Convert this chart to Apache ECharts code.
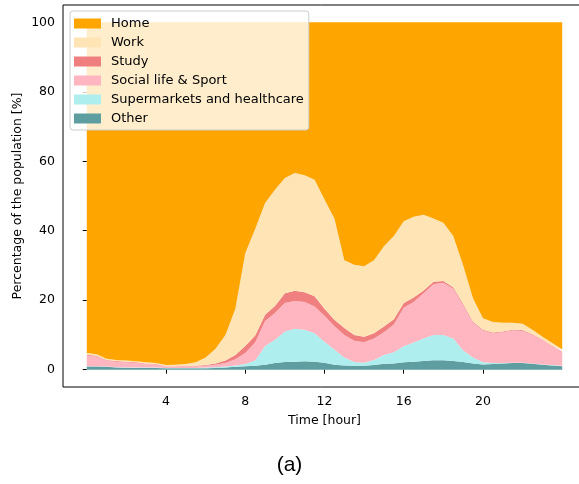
<!DOCTYPE html>
<html>
<head>
<meta charset="utf-8">
<script src="https://cdn.jsdelivr.net/npm/echarts@6/dist/echarts.min.js"></script>
<style>
html,body{margin:0;padding:0;background:#fff;}
#chart{width:579px;height:484px;}
</style>
</head>
<body>
<div id="chart"></div>
<script>
// Time of day (hours)
const hours = [0,0.5,1,1.5,2,2.5,3,3.5,4,4.5,5,5.5,6,6.5,7,7.5,8,8.5,9,9.5,10,10.5,11,11.5,12,12.5,13,13.5,14,14.5,15,15.5,16,16.5,17,17.5,18,18.5,19,19.5,20,20.5,21,21.5,22,22.5,23,23.5,24];
const xTicks = [4, 8, 12, 16, 20];
const yTicks = [0, 20, 40, 60, 80, 100];

// Percentage of population per activity (stacked from bottom: Other ... Home)
const other = [0.9,0.9,0.8,0.6,0.5,0.5,0.5,0.5,0.4,0.4,0.4,0.4,0.4,0.5,0.6,0.8,1.0,1.1,1.4,1.9,2.2,2.3,2.4,2.3,2.0,1.4,1.2,1.1,1.1,1.3,1.7,1.8,2.1,2.3,2.5,2.7,2.7,2.5,2.2,1.8,1.5,1.6,1.8,1.9,1.9,1.7,1.4,1.2,1.0];
const supermarkets = [0.1,0.1,0.1,0.1,0.1,0.1,0.1,0.1,0.1,0.1,0.1,0.1,0.2,0.2,0.3,0.4,0.6,1.5,5.4,6.7,8.8,9.5,9.1,8.2,6.0,4.4,2.3,1.1,0.9,1.5,2.5,3.2,4.6,5.5,6.5,7.3,7.3,6.5,3.3,1.7,0.6,0.3,0.1,0.1,0.1,0.1,0.1,0.1,0.1];
const social = [3.1,2.8,1.7,1.6,1.5,1.3,1.1,0.9,0.4,0.4,0.5,0.5,0.5,0.7,1.0,1.8,3.2,5.2,7.2,7.7,8.2,8.0,8.0,7.7,7.5,6.7,6.5,6.1,5.9,6.2,6.6,8.0,11.1,11.7,13.0,14.6,15.0,14.3,13.0,10.0,9.2,8.6,8.9,9.3,9.2,8.2,7.0,5.4,4.2];
const study = [0.2,0.2,0.2,0.2,0.2,0.2,0.1,0.1,0.1,0.1,0.1,0.1,0.2,0.4,0.7,1.2,2.0,2.0,1.8,2.0,2.8,2.9,2.8,2.9,2.0,1.9,2.0,1.7,1.6,1.5,1.6,1.5,1.4,1.3,0.8,0.7,0.5,0.4,0.4,0.3,0.2,0.2,0.2,0.2,0.2,0.2,0.2,0.2,0.2];
const work = [0.5,0.4,0.3,0.3,0.3,0.3,0.3,0.3,0.3,0.4,0.5,1.0,2.2,4.2,7.4,13.3,26.7,30.7,32.2,33.5,33.2,33.9,33.7,33.6,31.5,29.1,19.5,20.2,20.3,21.0,23.1,24.0,23.5,23.2,21.8,18.2,16.8,14.8,11.1,6.7,3.3,3.0,2.5,2.0,1.8,1.3,0.8,0.8,0.3];
const home = [95.2,95.6,96.9,97.2,97.4,97.6,97.9,98.1,98.7,98.6,98.4,97.9,96.5,94.0,90.0,82.5,66.5,59.5,52.0,48.2,44.8,43.4,44.0,45.3,51.0,56.5,68.5,69.8,70.2,68.5,64.5,61.5,57.3,56.0,55.4,56.5,57.7,61.5,70.0,79.5,85.2,86.3,86.5,86.5,86.8,88.5,90.5,92.3,94.2];

const layers = [
  {name: 'Other', data: other, color: '#5F9EA0'},
  {name: 'Supermarkets and healthcare', data: supermarkets, color: '#AFEEEE'},
  {name: 'Social life & Sport', data: social, color: '#FFB6C1'},
  {name: 'Study', data: study, color: '#F08080'},
  {name: 'Work', data: work, color: '#FFE4B5'},
  {name: 'Home', data: home, color: '#FFA500'}
];
const legendOrder = ['Home','Work','Study','Social life & Sport','Supermarkets and healthcare','Other'];

const FONT = 'DejaVu Sans';
const chart = echarts.init(document.getElementById('chart'), null, {renderer: 'canvas'});
chart.setOption({
  animation: false,
  backgroundColor: '#fff',
  textStyle: {fontFamily: FONT},
  title: {
    text: '(a)', left: 'center', top: 455, padding: 0,
    textStyle: {fontFamily: 'Liberation Sans', fontSize: 21, fontWeight: 'normal', color: '#000'}
  },
  grid: {left: 63, top: 5, width: 523, height: 382, show: true, borderColor: '#000', borderWidth: 1,
         backgroundColor: 'transparent', containLabel: false, outerBoundsMode: 'none'},
  legend: {
    data: legendOrder, orient: 'vertical', left: 70, top: 11,
    itemWidth: 27, itemHeight: 10, itemGap: 6,
    padding: [6, 5, 5, 4],
    backgroundColor: 'rgba(255,255,255,0.8)', borderColor: '#cccccc', borderWidth: 1, borderRadius: 3,
    textStyle: {fontFamily: FONT, fontSize: 13, color: '#000', lineHeight: 13, padding: [0, 0, 0, 5]},
    icon: 'rect', selectedMode: false
  },
  xAxis: {
    type: 'value', min: -1.2, max: 25.2,
    name: 'Time [hour]', nameLocation: 'middle', nameGap: 27, nameMoveOverlap: false,
    nameTextStyle: {fontFamily: FONT, fontSize: 12.5, color: '#000'},
    axisLine: {show: false},
    axisTick: {show: true, length: 4, lineStyle: {color: '#000'}, customValues: xTicks},
    axisLabel: {fontFamily: FONT, fontSize: 12.5, color: '#000', margin: 8, customValues: xTicks},
    splitLine: {show: false}
  },
  yAxis: {
    type: 'value', min: -5, max: 105,
    name: 'Percentage of the population [%]', nameLocation: 'middle', nameGap: 39, nameRotate: 90,
    nameMoveOverlap: false,
    nameTextStyle: {fontFamily: FONT, fontSize: 12.5, color: '#000'},
    axisLine: {show: false},
    axisTick: {show: true, length: 4, lineStyle: {color: '#000'}, customValues: yTicks},
    axisLabel: {fontFamily: FONT, fontSize: 12.5, color: '#000', margin: 8, customValues: yTicks},
    splitLine: {show: false}
  },
  // value placed in column 0 so the stack is computed on the y value
  series: layers.map(l => ({
    name: l.name, type: 'line', stack: 'total',
    data: hours.map((h, i) => [l.data[i], h]),
    encode: {x: 1, y: 0},
    showSymbol: false, symbol: 'none',
    lineStyle: {width: 0},
    itemStyle: {color: l.color},
    areaStyle: {color: l.color, opacity: 1},
    silent: true
  }))
});
</script>
</body>
</html>
